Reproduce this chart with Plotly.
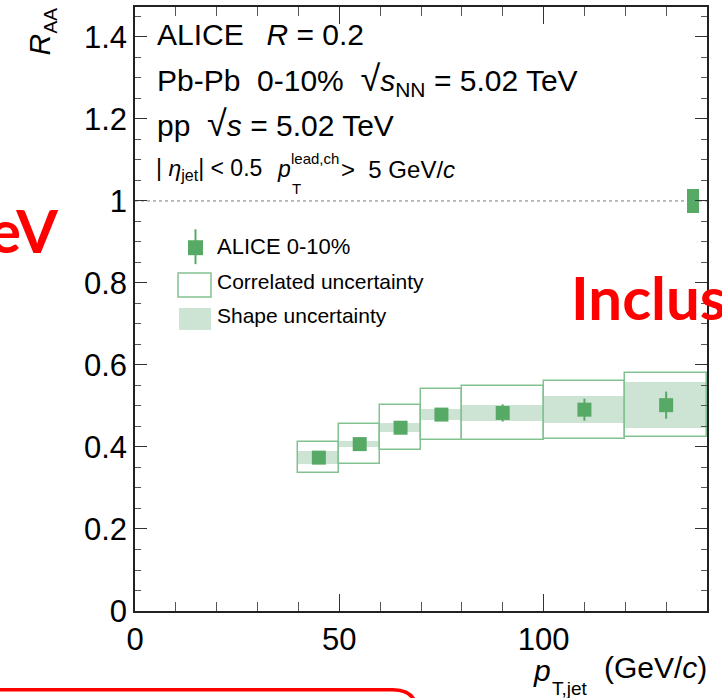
import plotly.graph_objects as go

# Jet R_AA, ALICE 0-10% Pb-Pb, R = 0.2
pt_low = [40, 50, 60, 70, 80, 100, 120]
pt_high = [50, 60, 70, 80, 100, 120, 140]
pt_mid = [45, 55, 65, 75, 90, 110, 130]
raa = [0.374, 0.407, 0.447, 0.479, 0.483, 0.491, 0.502]
stat_err = [0.010, 0.010, 0.011, 0.012, 0.021, 0.027, 0.033]
corr_err = [0.038, 0.049, 0.055, 0.062, 0.065, 0.071, 0.078]
shape_err = [0.016, 0.007, 0.0115, 0.014, 0.0195, 0.033, 0.0555]

# normalisation uncertainty box drawn at unity
norm_x = [136.5]
norm_width = [3.0]
norm_center = [1.0]
norm_err = [0.03]

y_tickvals = [0, 0.2, 0.4, 0.6, 0.8, 1.0, 1.2, 1.4]
y_ticktext = ["0", "0.2", "0.4", "0.6", "0.8", "1", "1.2", "1.4"]
x_tickvals = [0, 50, 100]
x_ticktext = ["0", "50", "100"]

GREEN = "#57aa66"
BAND = "#cde4d5"
BOXLINE = "#82c190"
RED = "#ff0000"
FONT = "Liberation Sans, Arial, Helvetica, sans-serif"

W, H = 722, 698
L, R, T, B = 135, 707, 5, 611


def px(x):
    return (x - L) / (R - L)


def py(y):
    return (B - y) / (B - T)


widths = [h - l for l, h in zip(pt_low, pt_high)]
centers = [(l + h) / 2 for l, h in zip(pt_low, pt_high)]

fig = go.Figure()

# shape uncertainty bands
fig.add_trace(go.Bar(
    x=centers, width=widths,
    base=[v - e for v, e in zip(raa, shape_err)],
    y=[2 * e for e in shape_err],
    marker=dict(color=BAND, line=dict(width=0)),
    showlegend=False, hoverinfo="skip",
))
# correlated uncertainty boxes
fig.add_trace(go.Bar(
    x=centers, width=widths,
    base=[v - e for v, e in zip(raa, corr_err)],
    y=[2 * e for e in corr_err],
    marker=dict(color="rgba(0,0,0,0)", line=dict(width=1.5, color=BOXLINE)),
    showlegend=False, hoverinfo="skip",
))
# normalisation box
fig.add_trace(go.Bar(
    x=norm_x, width=norm_width,
    base=[c - e for c, e in zip(norm_center, norm_err)],
    y=[2 * e for e in norm_err],
    marker=dict(color=GREEN, line=dict(width=0)),
    showlegend=False, hoverinfo="skip",
))
# data points with statistical errors
fig.add_trace(go.Scatter(
    x=pt_mid, y=raa, mode="markers",
    marker=dict(symbol="square", size=14, color=GREEN),
    error_y=dict(type="data", array=stat_err, color=GREEN, thickness=2, width=0),
    showlegend=False, hoverinfo="skip",
))

shapes = []
# unity reference line
shapes.append(dict(type="line", xref="x", yref="y", x0=0, x1=140, y0=1, y1=1,
                   line=dict(color="#7a7a7a", width=1, dash="3px,3px"), layer="below"))

# legend symbols
shapes.append(dict(type="line", xref="paper", yref="paper",
                   x0=px(195.5), x1=px(195.5), y0=py(228), y1=py(263),
                   line=dict(color=GREEN, width=2)))
shapes.append(dict(type="rect", xref="paper", yref="paper",
                   x0=px(188), x1=px(203), y0=py(254), y1=py(239),
                   fillcolor=GREEN, line=dict(width=0)))
shapes.append(dict(type="rect", xref="paper", yref="paper",
                   x0=px(178), x1=px(211), y0=py(296), y1=py(272),
                   fillcolor="white", line=dict(color=BOXLINE, width=1.5)))
shapes.append(dict(type="rect", xref="paper", yref="paper",
                   x0=px(179), x1=px(211), y0=py(329), y1=py(307),
                   fillcolor=BAND, line=dict(width=0)))

# red rounded frame at the bottom
path = "M {} {} L {} {} Q {} {} {} {} L {} {}".format(
    px(-10), py(690), px(393), py(690), px(417), py(690), px(417), py(714), px(417), py(720))
shapes.append(dict(type="path", xref="paper", yref="paper", path=path,
                   line=dict(color=RED, width=3.5)))

NB = "\u00a0"
THIN = "\u2009"
ROOT_SIGN = '<span style="font-size:36px">√</span>'
ann = []


def text(x, y, s, size, xanchor="left", color="black", family=FONT, angle=0, yanchor="middle"):
    ann.append(dict(x=px(x), y=py(y), xref="paper", yref="paper", text=s,
                    showarrow=False, xanchor=xanchor, yanchor=yanchor, textangle=angle,
                    borderpad=0, font=dict(size=size, color=color, family=family)))


text(156, 33, "ALICE" + NB * 2 + THIN + "<i>R</i> = 0.2", 30)
text(156, 78, "Pb-Pb" + NB * 2 + "0-10%" + NB * 2 + ROOT_SIGN + "<i>s</i><sub>NN</sub> = 5.02 TeV", 30)
text(156, 122, "pp" + NB * 2 + ROOT_SIGN + "<i>s</i> = 5.02 TeV", 30)
text(155, 168, "|" + NB + "<i>η</i><sub>jet</sub>| < 0.5", 23)
text(276, 168, "<i>p</i>", 23)
text(290, 157, "lead,ch", 15)
text(291, 187, "T", 15)
text(340, 168, ">" + NB * 2 + "5 GeV/<i>c</i>", 24)

text(216, 245.5, "ALICE 0-10%", 22)
text(216, 280, "Correlated uncertainty", 21)
text(216, 314.5, "Shape uncertainty", 21)

# axis titles
text(39, 42.5, "<i>R</i>", 30, xanchor="center", angle=-90)
text(50, 18.5, "AA", 19, xanchor="center", angle=-90)
text(708, 668, "(GeV/<i>c</i>)", 30, xanchor="right")
text(552, 671, "<i>p</i>", 30, xanchor="right")
text(551, 689, "T,jet", 19)

# slide text around the figure
RED_FONT = "Lato, Noto Sans, sans-serif"
text(59, 229, "<b>eV</b>", 60, xanchor="right", color=RED, family=RED_FONT)
text(570, 296, "<b>Inclus</b>", 60, color=RED, family=RED_FONT)

fig.update_layout(
    width=W, height=H,
    margin=dict(l=L, r=W - R, t=T, b=H - B, pad=0),
    paper_bgcolor="white", plot_bgcolor="white",
    barmode="overlay", bargap=0, hovermode=False,
    shapes=shapes, annotations=ann,
    font=dict(family=FONT, size=31, color="black"),
    xaxis=dict(range=[0, 140], tickvals=x_tickvals, ticktext=x_ticktext,
               ticks="inside", ticklen=17, tickwidth=1, tickcolor="#333",
               minor=dict(dtick=10, tick0=0, ticks="inside", ticklen=9, tickwidth=1, tickcolor="#555"),
               showline=True, linecolor="#222", linewidth=1.5, mirror="allticks",
               showgrid=False, zeroline=False, tickfont=dict(size=31, family=FONT)),
    yaxis=dict(range=[0, 1.473], tickvals=y_tickvals, ticktext=y_ticktext,
               ticks="inside", ticklen=12, tickwidth=1, tickcolor="#333",
               minor=dict(dtick=0.05, tick0=0, ticks="inside", ticklen=6, tickwidth=1, tickcolor="#555"),
               showline=True, linecolor="#222", linewidth=1.5, mirror="allticks",
               showgrid=False, zeroline=False, tickfont=dict(size=31, family=FONT)),
)

fig.write_html("out.html")
